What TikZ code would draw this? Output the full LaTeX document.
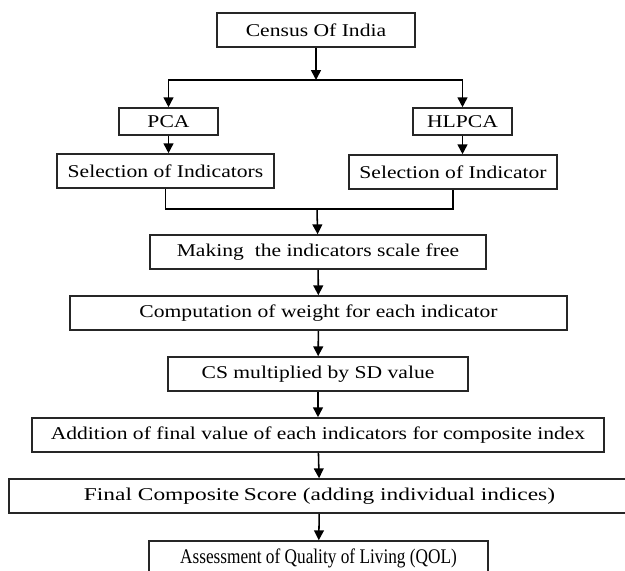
\documentclass[tikz,border=0pt]{standalone}
\usepackage{fontspec}
\setmainfont{Liberation Serif}
\newfontfamily\widerm{Liberation Serif}[FakeStretch=1.2]
\newfontfamily\spacedrm{Liberation Serif}[FakeStretch=1.3]
\newfontfamily\narrowrm{Liberation Serif}[FakeStretch=0.83]
\usepackage{tikz}
\usetikzlibrary{shapes,positioning,calc}
\usetikzlibrary{arrows.meta}
\tikzstyle{stage} = [rectangle, minimum height=0.85cm, inner sep=0pt, text centered, draw=black!85, line width=1.1pt, font=\widerm\fontsize{12.8}{15}\selectfont]
\tikzstyle{arrow} = [line width=1.1pt,-{Triangle[width=7pt,length=7pt]}]

\begin{document}
\begin{tikzpicture}[x=0.025cm,y=-0.025cm]
				\clip (0,0) rectangle (625,571);
				\node (census) at (316,30) [stage, minimum width=4.95cm] {Census Of India};
				\coordinate (split) at (316,80);
				\node (pca) at (168.5,121.5) [stage, minimum width=2.475cm, minimum height=0.675cm] {PCA};
				\node (hlpca) at (462.5,121.5) [stage, minimum width=2.475cm, minimum height=0.675cm] {HLPCA};
				\node (selpca) at (165.5,171) [stage, minimum width=5.425cm] {Selection of Indicators};
				\node (selhl) at (453,172) [stage, minimum width=5.2cm] {Selection of Indicator};
				\coordinate (merge) at (317,209);
				\node (scale) at (318,252) [stage, minimum width=8.4cm] {Making\ \ the indicators scale free};
				\node (weight) at (318.5,313) [stage, minimum width=12.425cm] {Computation of weight for each indicator};
				\node (cs) at (318,374) [stage, minimum width=7.5cm] {CS multiplied by SD value};
				\node (add) at (318,435) [stage, minimum width=14.3cm] {Addition of final value of each indicators for composite index};
				\node (final) at (319.5,496) [stage, minimum width=15.525cm, font=\spacedrm\fontsize{12.8}{15}\selectfont] {Final Composite\hspace{-1pt} Score (adding individual indices)};
				\node (qol) at (318.5,558) [stage, minimum width=8.475cm, font=\narrowrm\fontsize{14.8}{17}\selectfont] {Assessment of Quality of Living (QOL)};
				\draw[arrow] (census) -- (split);
				\draw[arrow] (split) -| (pca);
				\draw[arrow] (split) -| (hlpca);
				\draw[arrow] (pca) -- (pca |- selpca.north);
				\draw[arrow] (hlpca) -- (hlpca |- selhl.north);
				\draw[line width=1.1pt] (selpca) |- (merge) -| (selhl);
				\draw[arrow] (merge) -- (scale);
				\draw[arrow] (scale) -- (weight);
				\draw[arrow] (weight) -- (cs);
				\draw[arrow] (cs) -- (add);
				\draw[arrow] (add) -- (final);
				\draw[arrow] (final) -- (qol);
				\end{tikzpicture}
\end{document}
